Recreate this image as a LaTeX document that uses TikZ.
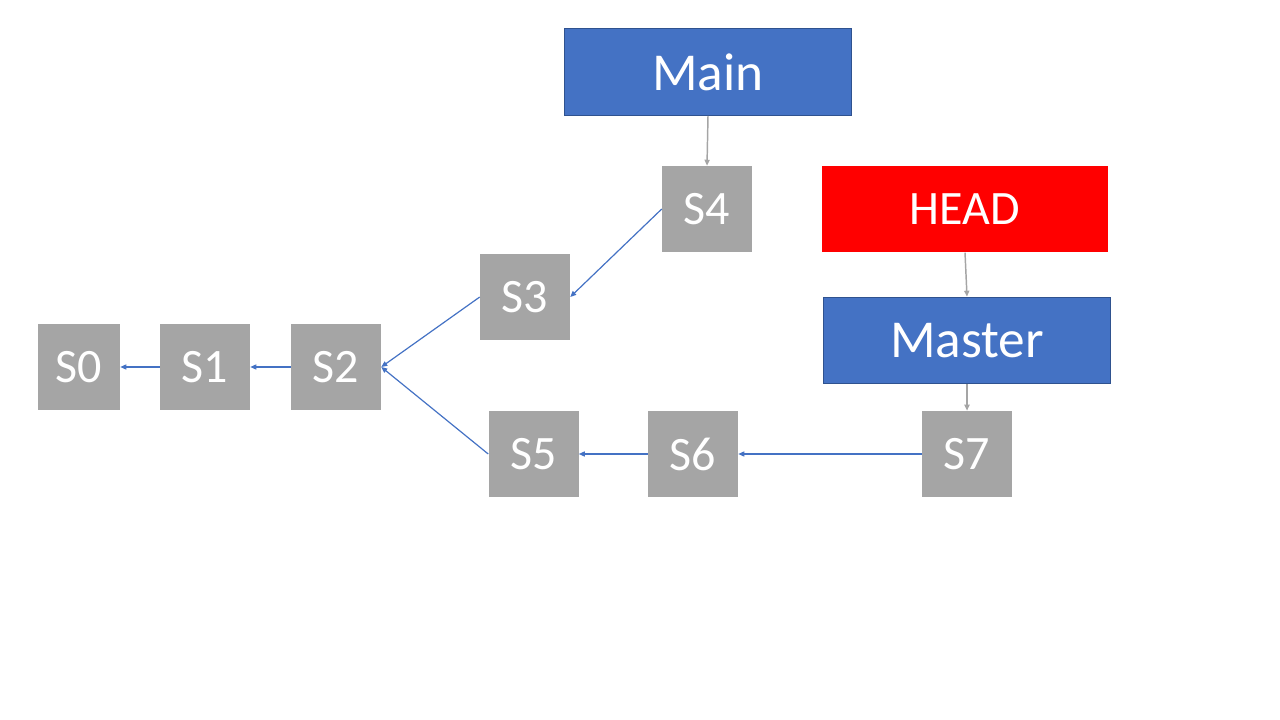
\documentclass[tikz,border=0pt]{standalone}
\usepackage{fontspec}
\setmainfont{Carlito}
\usetikzlibrary{arrows.meta}
\definecolor{bblue}{HTML}{4472C4}
\definecolor{bborder}{HTML}{2F528F}
\definecolor{sgrey}{HTML}{A5A5A5}
\definecolor{hred}{HTML}{FF0000}
\tikzset{
  box/.style={rectangle, inner sep=0pt, text=white, anchor=center},
  commit/.style={box, fill=sgrey, minimum width=67.5pt, minimum height=64.5pt, font=\fontsize{36}{40}\selectfont},
  branch/.style={box, fill=bblue, draw=bborder, line width=0.75pt, minimum width=215pt, minimum height=65pt, font=\fontsize{40}{44}\selectfont},
  headbox/.style={box, fill=hred, minimum width=215pt, minimum height=65pt, font=\fontsize{36}{40}\selectfont},
  parent/.style={draw=bblue, line width=0.9pt, -{Triangle[length=4.5pt,width=3.8pt]}},
  ref/.style={draw=sgrey, line width=1.1pt, -{Triangle[length=4.5pt,width=3.8pt]}}
}
\begin{document}
\begin{tikzpicture}[x=0.75pt,y=-0.75pt]
\useasboundingbox (0,0) rectangle (1280,720);
\node[branch] (main) at (708,72) {Main};
\node[commit] (s4) at (707,209) {S4};
\node[headbox] (head) at (965,209) {HEAD};
\node[commit] (s3) at (525,297) {S3};
\node[branch] (master) at (967,340.5) {Master};
\node[commit, minimum width=61.5pt] (s0) at (79,367) {S0};
\node[commit] (s1) at (205,367) {S1};
\node[commit] (s2) at (336,367) {S2};
\node[commit] (s5) at (533.5,454) {S5};
\node[commit] (s6) at (693,454) {S6};
\node[commit] (s7) at (967,454) {S7};
\draw[parent] (s1.west) -- (s0.east);
\draw[parent] (s2.west) -- (s1.east);
\draw[parent] (s3.west) -- (s2.east);
\draw[parent] (s4.west) -- (s3.east);
\draw[parent] (s5.west) -- (s2.east);
\draw[parent] (s6.west) -- (s5.east);
\draw[parent] (s7.west) -- (s6.east);
\draw[ref] (main.south) -- (s4.north);
\draw[ref] (head.south) -- (master.north);
\draw[ref] (master.south) -- (s7.north);
\end{tikzpicture}
\end{document}
